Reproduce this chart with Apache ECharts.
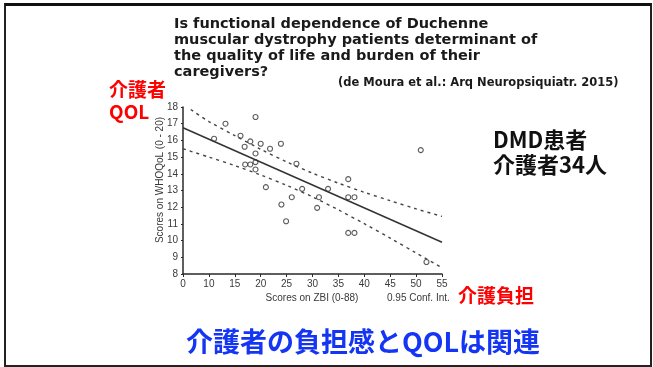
<!DOCTYPE html>
<html>
<head>
<meta charset="utf-8">
<script src="https://cdn.jsdelivr.net/npm/echarts@6/dist/echarts.min.js"></script>
<style>html,body{margin:0;padding:0;background:#fff}#c{width:653px;height:367px}</style>
</head>
<body>
<div id="c"></div>
<script>
// ---- data ----
// x positions are in axis units (the axis starts at 5, whose label prints as "0" in the original)
var xTickLabels = {5:'0',10:'10',15:'15',20:'20',25:'25',30:'30',35:'35',40:'40',45:'45',50:'50',55:'55'};
var pointsX = [11.0,13.2,19.0,16.1,16.9,18.0,20.0,19.0,21.8,23.9,17.0,18.0,19.0,19.0,21.0,26.9,24.0,24.9,26.0,28.0,31.25,30.9,33.0,36.9,36.9,38.1,36.9,38.1,50.9,52.0];
var pointsY = [16.1,17.0,17.4,16.28,15.62,15.94,15.8,15.22,15.5,15.8,14.56,14.56,14.7,14.26,13.2,14.6,12.16,11.16,12.6,13.1,12.6,11.96,13.1,13.68,12.6,12.6,10.46,10.46,15.42,8.72];
var fitX = [5,55];
var fitY = [16.76,9.9];
var upperX = [6.5,10,15,20,25,30,35,40,45,50,55];
var upperY = [17.85,17.13,16.29,15.47,14.71,14.04,13.44,12.89,12.39,11.9,11.45];
var lowerX = [5,10,15,20,25,30,35,40,45,50,55];
var lowerY = [15.5,15.0,14.49,13.93,13.31,12.62,11.84,11.01,10.15,9.26,8.38];

function pairs(xs, ys){ return xs.map(function(x,i){return [x, ys[i]];}); }

var chart = echarts.init(document.getElementById('c'), null, {renderer:'canvas'});
var axisColor = '#2a2a2a';
var labelColor = '#3a3a3a';
var option = {
  backgroundColor:'#ffffff',
  animation:false,
  grid:{left:183, right:211, top:107, bottom:93},
  xAxis:{
    type:'value', min:5, max:55, interval:5,
    axisLine:{show:true, lineStyle:{color:axisColor, width:1.5}},
    axisTick:{show:true, length:3, lineStyle:{color:axisColor}},
    axisLabel:{color:labelColor, fontSize:10, margin:5, fontFamily:'Liberation Sans',
      formatter:function(v){ return xTickLabels[v] !== undefined ? xTickLabels[v] : ''; }},
    splitLine:{show:false}
  },
  yAxis:{
    type:'value', min:8, max:18, interval:1,
    axisLine:{show:true, lineStyle:{color:axisColor, width:1.5}},
    axisTick:{show:true, length:2, lineStyle:{color:axisColor}},
    axisLabel:{color:labelColor, fontSize:10, margin:5, fontFamily:'Liberation Sans'},
    splitLine:{show:false}
  },
  series:[
    {type:'line', data:pairs(fitX, fitY), symbol:'none', silent:true,
      lineStyle:{color:'#333', width:1.5}},
    {type:'line', data:pairs(upperX, upperY), symbol:'none', smooth:0.3, silent:true,
      lineStyle:{color:'#444', width:1.4, type:[3,4]}},
    {type:'line', data:pairs(lowerX, lowerY), symbol:'none', smooth:0.3, silent:true,
      lineStyle:{color:'#444', width:1.4, type:[3,4]}},
    {type:'scatter', data:pairs(pointsX, pointsY), symbol:'circle', symbolSize:5,
      itemStyle:{color:'#ffffff', borderColor:'#333', borderWidth:1.1}}
  ],
  graphic:[
    {type:'rect', shape:{x:5, y:4, width:646, height:362}, style:{fill:'none', stroke:'#222', lineWidth:2}, z:100},
    {type:'rect', shape:{x:5, y:3, width:646, height:3}, style:{fill:'#111'}, z:100},
    {type:'text', x:174, y:16, style:{text:'Is functional dependence of Duchenne\nmuscular dystrophy patients determinant of\nthe quality of life and burden of their\ncaregivers?',
      font:'bold 14.5px "DejaVu Sans"', fill:'#1a1a1a', lineHeight:16}},
    {type:'text', x:338, y:83, style:{text:'(de Moura et al.: Arq Neuropsiquiatr. 2015)', font:'bold 11.5px "DejaVu Sans"', fill:'#1a1a1a', verticalAlign:'middle'}},
    {type:'text', x:109, y:90, style:{text:'介護者', font:'bold 19px "Noto Sans CJK JP"', fill:'#ff0000', verticalAlign:'middle'}},
    {type:'text', x:109, y:112, style:{text:'QOL', font:'bold 19px "Noto Sans CJK JP"', fill:'#ff0000', verticalAlign:'middle'}},
    {type:'text', x:493, y:140, style:{text:'DMD患者', font:'bold 22px "Noto Sans CJK JP"', fill:'#111', verticalAlign:'middle'}},
    {type:'text', x:493, y:165, style:{text:'介護者34人', font:'bold 22px "Noto Sans CJK JP"', fill:'#111', verticalAlign:'middle'}},
    {type:'text', x:458, y:296, style:{text:'介護負担', font:'bold 19px "Noto Sans CJK JP"', fill:'#ff0000', verticalAlign:'middle'}},
    {type:'text', x:363, y:342, style:{text:'介護者の負担感とQOLは関連', font:'bold 27px "Noto Sans CJK JP"', fill:'#1535f5', align:'center', verticalAlign:'middle'}},
    {type:'text', x:312, y:298, style:{text:'Scores on ZBI (0-88)', font:'10px "Liberation Sans"', fill:labelColor, align:'center', verticalAlign:'middle'}},
    {type:'text', x:387, y:298, style:{text:'0.95 Conf. Int.', font:'10px "Liberation Sans"', fill:labelColor, verticalAlign:'middle'}},
    {type:'text', x:160, y:180, rotation:Math.PI/2, style:{text:'Scores on WHOQoL (0 - 20)', font:'10px "Liberation Sans"', fill:labelColor, align:'center', verticalAlign:'middle'}}
  ]
};
chart.setOption(option);
</script>
</body>
</html>
